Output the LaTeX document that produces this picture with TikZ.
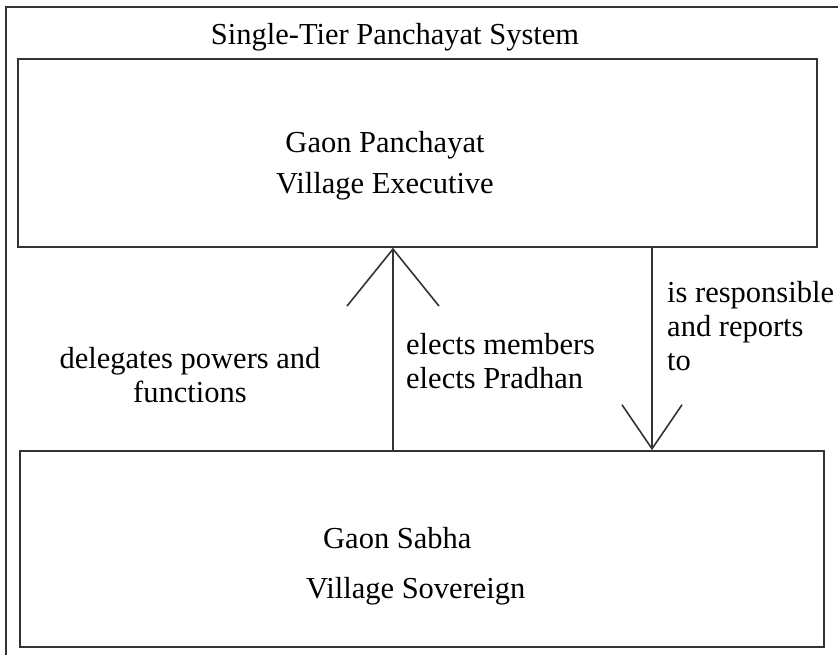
\documentclass[tikz,border=0pt]{standalone}
\usepackage{fontspec}
\setmainfont{Liberation Serif}
\usetikzlibrary{arrows.meta}

\begin{document}
\begin{tikzpicture}[x=1pt, y=-1pt,
	box/.style={draw=black!80, line width=1.6pt, inner sep=0pt},
	lbl/.style={inner sep=0pt, font=\fontsize{30.5}{34}\selectfont}]
	\useasboundingbox (0,0) rectangle (838,655);
	\draw [black!80, line width=1.6pt] (838,7) -- (6,7) -- (6,655);
	\node [box, minimum width=799pt, minimum height=188pt] (upper) at (417.5,153) {};
	\node [box, minimum width=804pt, minimum height=196pt] (lower) at (422,549) {};
	\node [lbl, anchor=base] (title) at (395,45) {Single-Tier Panchayat System};
	\node [lbl, anchor=base, align=center] (gp) at (385,194) {Gaon Panchayat\\[7pt]Village Executive};
	\node [lbl, anchor=base west] (gs) at (323,548) {Gaon Sabha};
	\node [lbl, anchor=base west] (vs) at (306,598) {Village Sovereign};
	\node [lbl, anchor=base, align=center] (dlg) at (190,402) {delegates powers and\\functions};
	\node [lbl, anchor=base west, align=left] (elect) at (406,388) {elects members\\elects Pradhan};
	\node [lbl, anchor=base west, align=left] (resp) at (667,370) {is responsible\\and reports\\to};
	\coordinate (upx) at (393,0);
	\coordinate (downx) at (652,0);
	\draw [black!80, line width=1.6pt, -{Straight Barb[length=57pt, width=92pt]}] (lower.north -| upx) -- (upper.south -| upx);
	\draw [black!80, line width=1.6pt, -{Straight Barb[length=44pt, width=60pt]}] (upper.south -| downx) -- (lower.north -| downx);
\end{tikzpicture}
\end{document}
